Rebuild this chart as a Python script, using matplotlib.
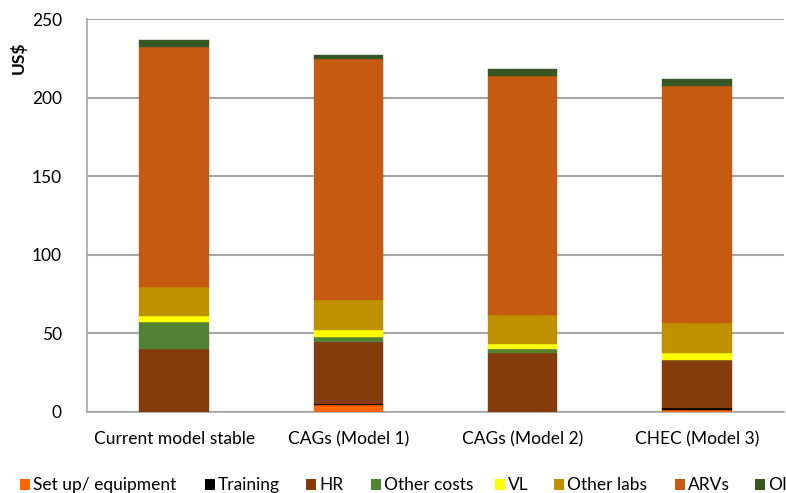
import matplotlib
matplotlib.use("Agg")
import matplotlib.pyplot as plt
from matplotlib.patches import Rectangle
import numpy as np

categories = ["Current model stable", "CAGs (Model 1)", "CAGs (Model 2)", "CHEC (Model 3)"]
series_names = ["Set up/ equipment", "Training", "HR", "Other costs", "VL", "Other labs", "ARVs", "OI"]

setup = [0.0, 4.5, 0.0, 1.5]
training = [0.0, 0.3, 0.0, 1.0]
hr = [40.0, 40.0, 37.7, 30.5]
other_costs = [17.0, 3.0, 2.3, 0.0]
vl = [4.0, 4.3, 3.0, 4.3]
other_labs = [18.5, 19.0, 19.0, 19.0]
arvs = [153.0, 153.5, 152.0, 151.2]
oi = [4.0, 2.5, 4.0, 4.2]

series_values = [setup, training, hr, other_costs, vl, other_labs, arvs, oi]
colors = ["#FF6600", "#000000", "#843C0C", "#548235", "#FFFF00", "#BF9000", "#C55A11", "#375623"]

yticks = [0, 50, 100, 150, 200, 250]

plt.rcParams["font.family"] = ["Lato", "DejaVu Sans"]

W, H = 786, 493
fig = plt.figure(figsize=(W / 100, H / 100), dpi=100)
ax = fig.add_axes([87 / W, (H - 412) / H, 697 / W, (412 - 19) / H])

x = np.arange(len(categories))
bottom = np.zeros(len(categories))
for name, vals, col in zip(series_names, series_values, colors):
    v = np.array(vals)
    ax.bar(x, v, width=0.4, bottom=bottom, color=col, edgecolor=col, linewidth=0.3, zorder=3)
    bottom += v

ax.set_xlim(-0.5, len(categories) - 0.5)
ax.set_ylim(0, 250)
ax.set_yticks(yticks)
ax.set_yticklabels([str(t) for t in yticks])
ax.set_xticks(x)
ax.set_xticklabels(categories)
ax.tick_params(axis="both", length=0, labelsize=12.5, colors="#000000")
ax.tick_params(axis="y", pad=18)
ax.tick_params(axis="x", pad=14)

ax.yaxis.grid(True, color="#A6A6A6", linewidth=1.5, zorder=0)
ax.set_axisbelow(True)
for side in ["top", "right"]:
    ax.spines[side].set_visible(False)
for side in ["left", "bottom"]:
    ax.spines[side].set_color("#A6A6A6")
    ax.spines[side].set_linewidth(1.2)

fig.text(18 / W, 1 - 58 / H, "US$", rotation=90, fontsize=12.5, fontweight="bold",
         ha="center", va="center")

# legend row along the bottom edge
marker_x = [20, 205, 306, 371, 495, 554, 675, 755]
for px, name, col in zip(marker_x, series_names, colors):
    fig.patches.append(Rectangle((px / W, 1 - 490 / H), 10 / W, 11 / H,
                                 transform=fig.transFigure, facecolor=col,
                                 edgecolor="none"))
    fig.text((px + 13) / W, 1 - 485 / H, name, fontsize=12.5, ha="left", va="center")

fig.savefig("out.png", dpi=100)
